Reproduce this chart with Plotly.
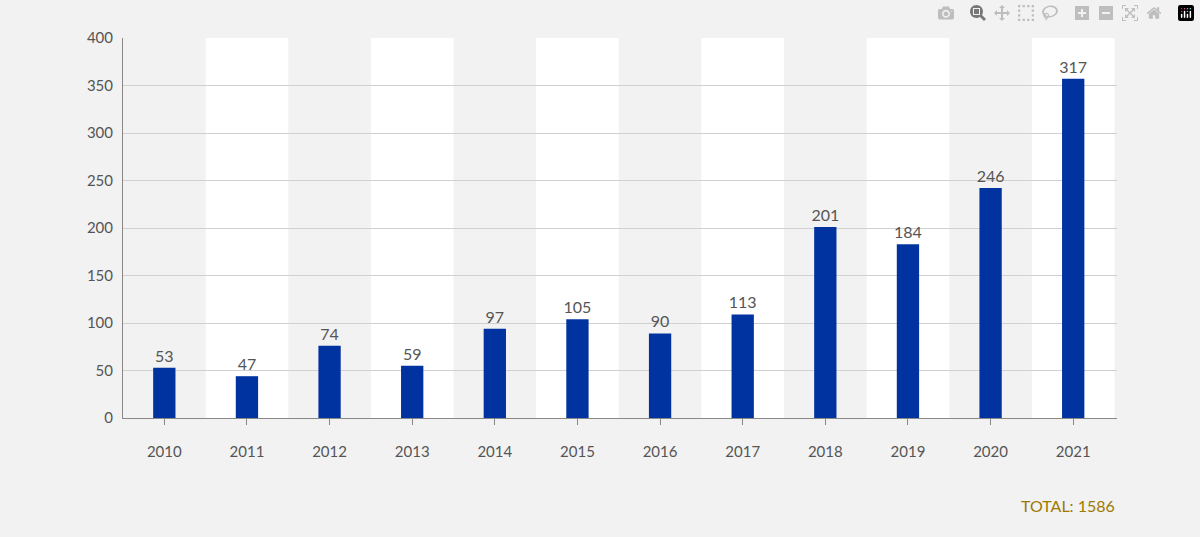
import plotly.graph_objects as go

years = ["2010","2011","2012","2013","2014","2015","2016","2017","2018","2019","2020","2021"]
heights = [53, 44, 76, 55, 94, 104, 89, 109, 201, 183, 242, 357]
labels = ["53","47","74","59","97","105","90","113","201","184","246","317"]
total_text = "TOTAL: 1586"

fig = go.Figure(go.Bar(
    x=years, y=heights, text=labels, textposition="outside", constraintext="none",
    textfont=dict(family="Lato", size=16, color="#555555"),
    marker=dict(color="#0033a0", line=dict(width=0)), width=0.27, cliponaxis=False,
))
shapes = []
for i in range(1, len(years), 2):
    shapes.append(dict(type="rect", xref="x", yref="paper", x0=i-0.5, x1=i+0.5, y0=0, y1=1,
                       fillcolor="white", line=dict(width=0), layer="below"))
fig.update_layout(
    width=1200, height=537, paper_bgcolor="#f2f2f2", plot_bgcolor="#f2f2f2",
    margin=dict(l=123, r=83, t=38, b=119), shapes=shapes, showlegend=False,
    font=dict(family="Lato", size=15, color="#555555"),
    xaxis=dict(range=[-0.5, 11.53], showline=True, linecolor="#888888", ticks="outside",
               ticklen=6, tickcolor="#888888", ticklabelstandoff=14),
    yaxis=dict(range=[0, 400], dtick=50, gridcolor="#d0d0d0", showline=True,
               linecolor="#888888", zeroline=False, ticks="", ticklabelstandoff=6),
    annotations=[dict(text=total_text, xref="paper", yref="paper", x=1, y=-0.23,
                      xanchor="right", yanchor="middle", showarrow=False,
                      font=dict(family="Lato", size=16, color="#a07800"))],
)
fig.write_html("out.html", post_script="document.body.style.margin='0';document.body.style.background='#f2f2f2';document.body.style.overflow='hidden';")
